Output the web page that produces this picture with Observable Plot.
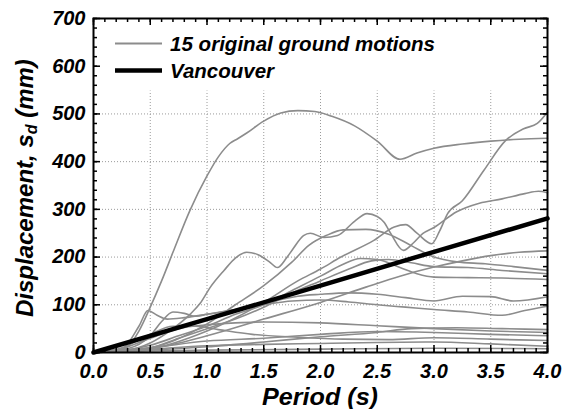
<!DOCTYPE html>
<html><head><meta charset="utf-8">
<script src="https://cdn.jsdelivr.net/npm/d3@7"></script>
<script src="https://cdn.jsdelivr.net/npm/@observablehq/plot@0.6"></script>
<style>
body{margin:0;background:#fff;}
#chart svg{font-family:"Liberation Sans",Arial,sans-serif;}
</style></head><body><div id="chart"></div>
<script>
// ---- data: [period (s), displacement (mm)] ----
const gm01 = [[0,0],[0.2,3],[0.3,12],[0.4,45],[0.5,95],[0.6,150],[0.7,210],[0.85,298],[1.0,370],[1.1,410],[1.2,438],[1.27,448],[1.35,460],[1.5,485],[1.65,502],[1.8,507],[1.95,505],[2.1,495],[2.3,475],[2.5,443],[2.7,405],[2.85,418],[3.0,428],[3.25,437],[3.5,443],[3.75,447],[4.0,449]];
const gm02 = [[0,0],[0.5,8],[1.0,45],[1.5,105],[1.8,150],[2.0,175],[2.18,200],[2.47,235],[2.65,263],[2.75,268],[2.85,250],[2.98,228],[3.05,255],[3.12,291],[3.25,318],[3.44,382],[3.63,444],[3.79,469],[3.91,480],[4.0,504]];
const gm03 = [[0,0],[0.3,5],[0.5,20],[0.7,50],[0.85,80],[0.94,103],[1.03,137],[1.15,172],[1.25,198],[1.35,210],[1.45,205],[1.55,190],[1.62,178],[1.7,198],[1.76,218],[1.85,245],[1.91,250],[2.03,241],[2.15,245],[2.3,275],[2.41,291],[2.5,285],[2.56,273],[2.62,249],[2.73,214],[2.82,230],[2.9,249],[3.0,262],[3.2,295],[3.4,313],[3.6,322],[3.8,333],[3.92,338],[4.0,335]];
const gm04 = [[0,0],[0.5,10],[1.0,60],[1.25,100],[1.5,140],[1.75,190],[1.9,225],[2.05,245],[2.2,257],[2.4,258],[2.6,248],[2.8,224],[3.0,200],[3.2,190],[3.45,186],[3.7,180],[4.0,172]];
const gm05 = [[0,0],[0.5,8],[1.0,35],[1.5,70],[2.0,105],[2.4,137],[2.7,160],[3.0,179],[3.25,192],[3.5,203],[3.75,210],[4.0,213]];
const gm06 = [[0,0],[0.3,5],[0.5,15],[0.75,35],[1.0,55],[1.25,80],[1.5,100],[1.75,130],[2.0,160],[2.2,185],[2.35,197],[2.5,195],[2.7,178],[2.85,165],[3.0,158],[3.3,157],[3.6,156],[4.0,153]];
const gm07 = [[0,0],[0.5,10],[0.75,30],[1.0,50],[1.25,70],[1.5,95],[1.75,125],[2.0,150],[2.25,175],[2.45,192],[2.6,195],[2.8,188],[3.0,180],[3.3,178],[3.6,172],[4.0,165]];
const gm08 = [[0,0],[0.3,8],[0.5,35],[0.6,65],[0.7,85],[0.8,82],[0.9,76],[1.0,80],[1.2,88],[1.4,95],[1.6,108],[1.8,118],[2.0,122],[2.25,125],[2.5,122],[2.75,115],[3.0,108],[3.25,118],[3.5,117],[3.7,108],[4.0,117]];
const gm09 = [[0,0],[0.25,8],[0.4,55],[0.48,88],[0.56,78],[0.65,70],[0.8,73],[1.0,80],[1.25,90],[1.5,100],[1.75,108],[2.0,110],[2.25,106],[2.5,100],[2.75,95],[3.0,90],[3.3,85],[3.6,78],[3.8,88],[4.0,97]];
const gm10 = [[0,0],[0.25,8],[0.5,30],[0.75,50],[1.0,58],[1.25,62],[1.5,64],[2.0,62],[2.5,56],[3.0,50],[3.5,45],[4.0,42]];
const gm11 = [[0,0],[0.25,10],[0.5,38],[0.7,55],[0.9,55],[1.1,48],[1.4,38],[1.8,32],[2.2,28],[2.6,27],[3.0,31],[3.5,28],[4.0,25]];
const gm12 = [[0,0],[0.5,5],[1.0,12],[1.5,22],[2.0,33],[2.5,42],[2.8,50],[3.2,52],[3.6,50],[4.0,48]];
const gm13 = [[0,0],[0.5,10],[1.0,24],[1.5,30],[2.0,38],[2.5,44],[3.0,42],[3.5,38],[4.0,35]];
const gm14 = [[0,0],[0.5,7],[1.0,14],[1.5,17],[2.0,19],[2.5,21],[3.0,22],[3.5,18],[4.0,13]];
const gm15 = [[0,0],[0.5,3],[1.0,5],[2.0,7],[3.0,9],[4.0,8]];
const vancouver = [[0,0],[1,70],[2,140],[3,211],[4,281]];

const xTicks = [0,0.5,1.0,1.5,2.0,2.5,3.0,3.5,4.0];
const xTickLabels = ["0.0","0.5","1.0","1.5","2.0","2.5","3.0","3.5","4.0"];
const yTicks = [0,100,200,300,400,500,600,700];
const yTickLabels = ["0","100","200","300","400","500","600","700"];
const xMinor = d3.range(0, 41).map(i => i / 10);
const yMinor = d3.range(0, 36).map(i => i * 20);
const xGrid = [0.5,1.0,1.5,2.0,2.5,3.0,3.5];
const yGrid = [100,200,300,400,500,600];

const legendLabels = ["15 original ground motions", "Vancouver"];

// ---- build rows ----
const motions = [gm01,gm02,gm03,gm04,gm05,gm06,gm07,gm08,gm09,gm10,gm11,gm12,gm13,gm14,gm15];
const motionRows = motions.flatMap((pts, i) => pts.map(([t, d]) => ({id: i, t, d})));
const vanRows = vancouver.map(([t, d]) => ({t, d}));

const W = 573, H = 409;
const mL = 93, mR = 26, mT = 18, mB = 57;
const fw = W - mL - mR, fh = H - mT - mB;
const gray = "#8c8c8c";
const fontFam = '"Liberation Sans", Arial, sans-serif';

const svg = Plot.plot({
  width: W, height: H,
  marginLeft: mL, marginRight: mR, marginTop: mT, marginBottom: mB,
  x: {domain: [0, 4]},
  y: {domain: [0, 700]},
  style: {fontFamily: fontFam, background: "white", color: "black"},
  marks: [
    Plot.gridX(xGrid, {stroke: "#9a9a9a", strokeOpacity: 1, strokeWidth: 1, strokeDasharray: "1,2"}),
    Plot.gridY(yGrid, {stroke: "#9a9a9a", strokeOpacity: 1, strokeWidth: 1, strokeDasharray: "1,2"}),
    // legend background box (hides grid behind the legend)
    Plot.frame({fill: "white", stroke: null, insetTop: 8, insetLeft: 2, insetRight: 9, insetBottom: fh - 72}),
    Plot.line(motionRows, {x: "t", y: "d", z: "id", stroke: gray, strokeWidth: 1.6, curve: "monotone-x"}),
    Plot.line(vanRows, {x: "t", y: "d", stroke: "black", strokeWidth: 4.5}),
    // inward ticks, all four sides
    Plot.tickX(xMinor, {x: d => d, stroke: "black", strokeWidth: 1.5, insetTop: fh - 4}),
    Plot.tickX(xTicks, {x: d => d, stroke: "black", strokeWidth: 1.5, insetTop: fh - 7}),
    Plot.tickX(xMinor, {x: d => d, stroke: "black", strokeWidth: 1.5, insetBottom: fh - 4}),
    Plot.tickX(xTicks, {x: d => d, stroke: "black", strokeWidth: 1.5, insetBottom: fh - 7}),
    Plot.tickY(yMinor, {y: d => d, stroke: "black", strokeWidth: 1.5, insetRight: fw - 4}),
    Plot.tickY(yTicks, {y: d => d, stroke: "black", strokeWidth: 1.5, insetRight: fw - 7}),
    Plot.tickY(yMinor, {y: d => d, stroke: "black", strokeWidth: 1.5, insetLeft: fw - 4}),
    Plot.tickY(yTicks, {y: d => d, stroke: "black", strokeWidth: 1.5, insetLeft: fw - 7}),
    Plot.axisX(xTicks, {anchor: "bottom", tickSize: 0, tickPadding: 11, label: null,
      tickFormat: d => xTickLabels[xTicks.indexOf(d)], fontSize: 20, fontWeight: "bold", fontStyle: "italic", fill: "black"}),
    Plot.axisY(yTicks, {anchor: "left", tickSize: 0, tickPadding: 8, label: null,
      tickFormat: d => yTickLabels[yTicks.indexOf(d)], fontSize: 20, fontWeight: "bold", fontStyle: "italic", fill: "black"}),
    Plot.frame({stroke: "black", strokeWidth: 2})
  ]
});

const s = d3.select(svg);
s.selectAll("text").attr("font-family", fontFam);

// legend (inside the plot, top)
const lg = s.append("g").attr("text-anchor", "start");
lg.append("line").attr("x1", 115).attr("x2", 162).attr("y1", 43.5).attr("y2", 43.5).attr("stroke", gray).attr("stroke-width", 2);
lg.append("line").attr("x1", 115).attr("x2", 162).attr("y1", 70.5).attr("y2", 70.5).attr("stroke", "black").attr("stroke-width", 4.5);
const legendStyle = sel => sel.attr("text-anchor", "start").attr("font-family", fontFam).attr("font-weight", "bold").attr("font-style", "italic").attr("font-size", 20).attr("fill", "black");
lg.append("text").attr("x", 170).attr("y", 51).text(legendLabels[0]).call(legendStyle).attr("textLength", 265).attr("lengthAdjust", "spacingAndGlyphs");
lg.append("text").attr("x", 170).attr("y", 77.5).text(legendLabels[1]).call(legendStyle).attr("textLength", 104).attr("lengthAdjust", "spacingAndGlyphs");

// axis titles
s.append("text").attr("x", mL + fw / 2).attr("y", 405).attr("text-anchor", "middle")
  .attr("font-family", fontFam).attr("font-weight", "bold").attr("font-style", "italic").attr("font-size", 23)
  .attr("textLength", 116).attr("lengthAdjust", "spacingAndGlyphs")
  .text("Period (s)");
const yt = s.append("text").attr("transform", "translate(33,317) rotate(-90)").attr("text-anchor", "start")
  .attr("font-family", fontFam).attr("font-weight", "bold").attr("font-style", "italic").attr("font-size", 24);
yt.append("tspan").text("Displacement, s");
yt.append("tspan").attr("font-size", 16).attr("dy", 4).text("d");
yt.append("tspan").attr("dy", -4).text(" (mm)");

document.getElementById("chart").appendChild(svg);
</script></body></html>
